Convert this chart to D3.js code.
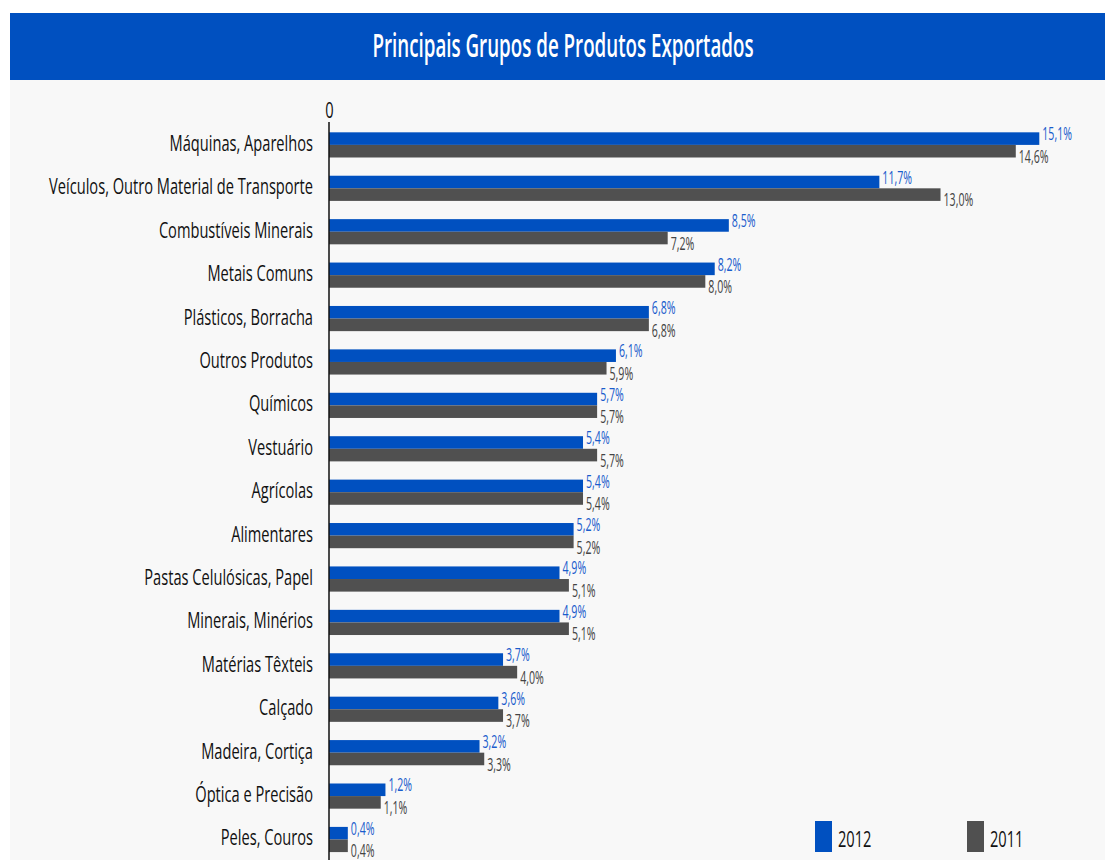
<!DOCTYPE html>
<html><head><meta charset="utf-8">
<script src="https://cdn.jsdelivr.net/npm/d3@7"></script>
<style>
html,body{margin:0;padding:0;background:#fff;}
svg{display:block;font-family:"Open Sans",sans-serif;}
</style></head>
<body>
<svg id="chart" width="1105" height="860"></svg>
<script>
const categories = ["Máquinas, Aparelhos","Veículos, Outro Material de Transporte","Combustíveis Minerais","Metais Comuns","Plásticos, Borracha","Outros Produtos","Químicos","Vestuário","Agrícolas","Alimentares","Pastas Celulósicas, Papel","Minerais, Minérios","Matérias Têxteis","Calçado","Madeira, Cortiça","Óptica e Precisão","Peles, Couros"];
const values2012 = [15.1,11.7,8.5,8.2,6.8,6.1,5.7,5.4,5.4,5.2,4.9,4.9,3.7,3.6,3.2,1.2,0.4];
const values2011 = [14.6,13.0,7.2,8.0,6.8,5.9,5.7,5.7,5.4,5.2,5.1,5.1,4.0,3.7,3.3,1.1,0.4];
const seriesNames = ["2012","2011"];
const xTicks = [0];
const title = "Principais Grupos de Produtos Exportados";

const colors = {"2012":"#0050c0","2011":"#505050"};
const labelColors = {"2012":"#1a5ccc","2011":"#444"};
const SX = 0.665;

const svg = d3.select("#chart");
svg.append("rect").attr("x",10).attr("y",13).attr("width",1095).attr("height",847).attr("fill","#f8f8f8");
svg.append("rect").attr("x",10).attr("y",13).attr("width",1095).attr("height",67).attr("fill","#0050c0");

function squeeze(sel, sx){
  sel.each(function(){
    const t = d3.select(this);
    const x = +t.attr("x")||0, y = +t.attr("y")||0;
    t.attr("x",0).attr("y",0).attr("transform",`translate(${x},${y}) scale(${sx},1)`);
  });
}

svg.append("text").attr("x",563).attr("y",57).attr("text-anchor","middle")
  .attr("fill","#fff").attr("font-size",32).attr("font-weight",600).text(title)
  .call(squeeze,0.586);

const x = d3.scaleLinear().domain([0,15.1]).range([329,1039.3]);
const y = d3.scaleBand().domain(categories).range([123.2,861.2]).paddingInner(0.42).paddingOuter(0.21);
const ys = d3.scaleBand().domain(seriesNames).range([0,y.bandwidth()]);

const rows = categories.map((c,i)=>({cat:c, vals:[{s:"2012",v:values2012[i]},{s:"2011",v:values2011[i]}]}));

const g = svg.append("g").selectAll("g").data(rows).join("g")
  .attr("transform",d=>`translate(0,${y(d.cat)})`);
g.selectAll("rect").data(d=>d.vals).join("rect")
  .attr("x",x(0)).attr("y",d=>ys(d.s)).attr("height",ys.bandwidth())
  .attr("width",d=>x(d.v)-x(0)).attr("fill",d=>colors[d.s]);
g.selectAll("text").data(d=>d.vals).join("text")
  .attr("x",d=>x(d.v)+3)
  .attr("y",d=>d.s==="2012"? ys(d.s)+8 : ys(d.s)+18)
  .attr("font-size",18).attr("fill",d=>labelColors[d.s])
  .text(d=>d3.format(".1f")(d.v).replace(".",",")+"%")
  .call(squeeze,0.59);

// left axis
const ax = svg.append("g").attr("transform",`translate(${x(0)},0)`)
  .call(d3.axisLeft(y).tickSize(0).tickPadding(16));
ax.select(".domain").attr("stroke","#111").attr("stroke-width",1.5).attr("d","M0,122V860");
ax.selectAll(".tick text").attr("font-size",22).attr("font-family","Open Sans").attr("fill","#111")
  .attr("dy",null).attr("y",6).call(squeeze,SX);

// top axis 0 label
const tx = svg.append("g").attr("transform","translate(0,118)")
  .call(d3.axisTop(x).tickValues(xTicks).tickSize(0).tickPadding(0));
tx.select(".domain").remove();
tx.selectAll(".tick text").attr("font-size",22).attr("font-family","Open Sans").attr("fill","#111")
  .attr("dy",null).attr("y",0).call(squeeze,SX);

// legend
const leg = svg.append("g").selectAll("g").data(seriesNames).join("g")
  .attr("transform",(d,i)=>`translate(${815+i*152},821)`);
leg.append("rect").attr("width",17).attr("height",31).attr("fill",d=>colors[d]);
leg.append("text").attr("x",23).attr("y",26).attr("font-size",22).attr("fill","#111").text(d=>d)
  .call(squeeze,SX);
</script>
</body></html>
